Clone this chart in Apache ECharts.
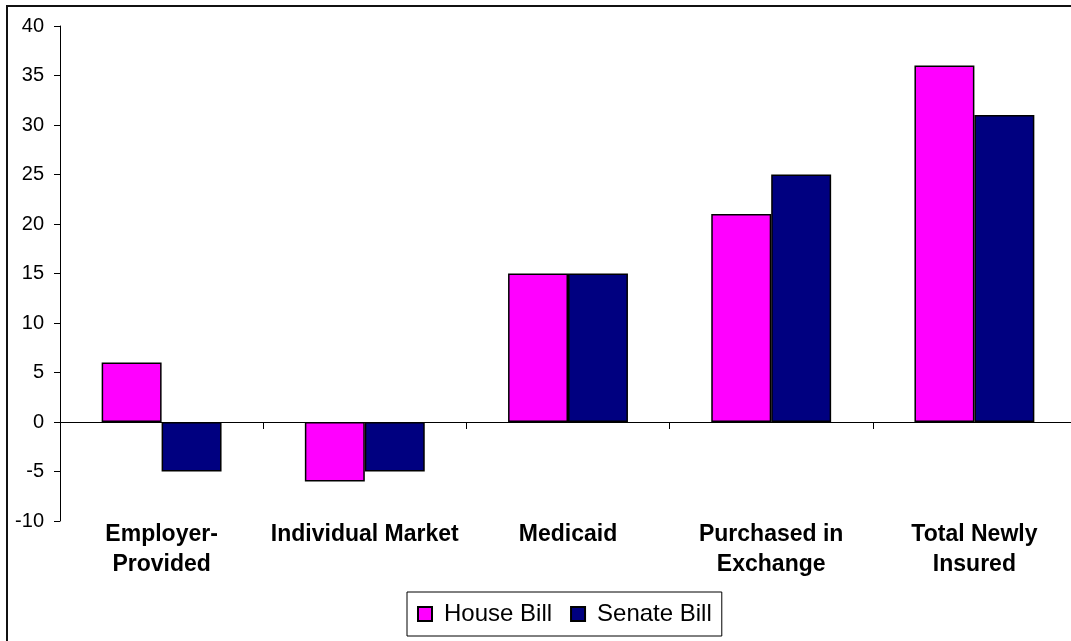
<!DOCTYPE html>
<html>
<head>
<meta charset="utf-8">
<script src="https://cdn.jsdelivr.net/npm/echarts@6/dist/echarts.min.js"></script>
<style>
html,body{margin:0;padding:0;background:#fff;overflow:hidden;width:1071px;height:641px;}
#chart{width:1100px;height:641px;}
</style>
</head>
<body>
<div id="chart"></div>
<script>
const categories = ["Employer-\nProvided", "Individual Market", "Medicaid", "Purchased in\nExchange", "Total Newly\nInsured"];
const houseBill = [6, -6, 15, 21, 36];
const senateBill = [-5, -5, 15, 25, 31];
const seriesNames = ["House Bill", "Senate Bill"];
const yMin = -10, yMax = 40, yStep = 5;

const chart = echarts.init(document.getElementById('chart'), null, {renderer: 'canvas'});
const font = "'Liberation Sans', Arial, sans-serif";
chart.setOption({
  animation: false,
  backgroundColor: '#fff',
  graphic: [{
    type: 'rect', z: 100, silent: true,
    shape: {x: 7, y: 6, width: 1200, height: 800},
    style: {fill: 'none', stroke: '#111', lineWidth: 2}
  }],
  grid: {left: 60, top: 26, width: 1016, height: 495, containLabel: false},
  legend: {
    data: seriesNames,
    left: 407, top: 592,
    orient: 'horizontal',
    itemWidth: 14, itemHeight: 14, itemGap: 18,
    padding: [10, 10, 10, 10],
    borderColor: '#000', borderWidth: 1,
    icon: 'rect',
    textStyle: {fontFamily: font, fontSize: 24, color: '#000', padding: [0, 0, 0, 7]}
  },
  xAxis: [{
    type: 'category', data: categories,
    axisLine: {show: true, onZero: true, lineStyle: {color: '#000', width: 1}},
    axisTick: {show: true, length: 7, lineStyle: {color: '#000'}},
    axisLabel: {show: false},
    splitLine: {show: false}
  }, {
    type: 'category', data: categories, position: 'bottom',
    axisLine: {show: false, onZero: false},
    axisTick: {show: false},
    axisLabel: {interval: 0, fontFamily: font, fontSize: 23, fontWeight: 'bold', color: '#000', lineHeight: 30, margin: -1},
    splitLine: {show: false}
  }],
  yAxis: {
    type: 'value', min: yMin, max: yMax, interval: yStep,
    axisLine: {show: true, lineStyle: {color: '#000', width: 1}},
    axisTick: {show: true, length: 6, lineStyle: {color: '#000'}},
    axisLabel: {fontFamily: font, fontSize: 20, color: '#000', margin: 16},
    splitLine: {show: false}
  },
  series: [{
    name: seriesNames[0], type: 'bar', data: houseBill, xAxisIndex: 0,
    barGap: '0%', barCategoryGap: '41%',
    itemStyle: {color: '#FF00FF', borderColor: '#000', borderWidth: 1.5}
  }, {
    name: seriesNames[1], type: 'bar', data: senateBill, xAxisIndex: 0,
    barGap: '0%', barCategoryGap: '41%',
    itemStyle: {color: '#000080', borderColor: '#000', borderWidth: 1.5}
  }]
});
</script>
</body>
</html>
